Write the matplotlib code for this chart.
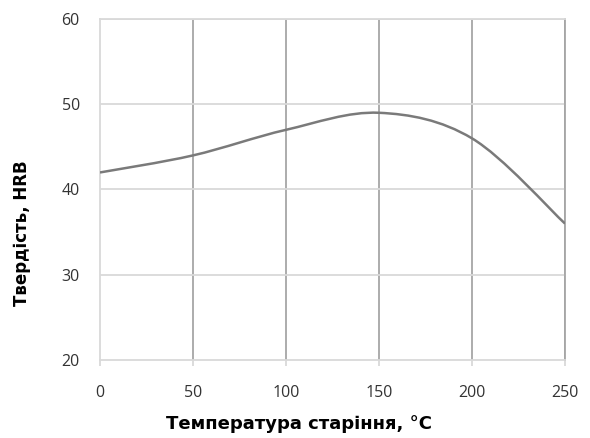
import numpy as np
import matplotlib
matplotlib.use("Agg")
import matplotlib.pyplot as plt
from matplotlib.path import Path
from matplotlib.patches import PathPatch

# data
temperature = [0, 50, 100, 150, 200, 250]
hardness = [42, 44, 47, 49, 46, 36]

x_ticks = [0, 50, 100, 150, 200, 250]
y_ticks = [20, 30, 40, 50, 60]


def smooth_path(x, y):  # Excel-like smoothed line as cubic bezier segments
    p = np.column_stack([x, y]).astype(float)
    n = len(p)
    verts = [p[0]]
    codes = [Path.MOVETO]
    for i in range(n - 1):
        p0 = p[i - 1] if i > 0 else p[i]
        p3 = p[i + 2] if i + 2 < n else p[i + 1]
        c1 = p[i] + (p[i + 1] - p0) / 6.0
        c2 = p[i + 1] - (p3 - p[i]) / 6.0
        verts += [c1, c2, p[i + 1]]
        codes += [Path.CURVE4] * 3
    return Path(verts, codes)


fig = plt.figure(figsize=(5.9, 4.38), dpi=100)
ax = fig.add_axes([100 / 590, 1 - 360 / 438, 465 / 590, 341 / 438])

ax.set_xlim(0, 250)
ax.set_ylim(20, 60)
ax.set_xticks(x_ticks)
ax.set_yticks(y_ticks)

for xv in x_ticks[1:]:
    ax.axvline(xv, color="#a6a6a6", lw=1.3, zorder=1)
for yv in y_ticks[1:]:
    ax.axhline(yv, color="#d9d9d9", lw=1.3, zorder=1)

patch = PathPatch(smooth_path(temperature, hardness), facecolor="none",
                  edgecolor="#7a7a7a", lw=1.8, zorder=3)
ax.add_patch(patch)

for side in ["top", "left", "bottom"]:
    ax.spines[side].set_color("#d9d9d9")
    ax.spines[side].set_linewidth(1.3)
ax.spines["right"].set_color("#a6a6a6")
ax.spines["right"].set_linewidth(1.3)

ax.tick_params(axis="x", length=4, width=1.3, color="#d9d9d9", pad=14,
               labelsize=11.5, labelcolor="#333333")
ax.tick_params(axis="y", length=0, pad=14.5, labelsize=11.5, labelcolor="#333333")
for lab in ax.get_xticklabels() + ax.get_yticklabels():
    lab.set_family("Open Sans")

ax.set_xlabel("Температура старіння, °C", fontsize=13, fontweight="bold")
ax.set_ylabel("Твердість, HRB", fontsize=12, fontweight="bold")
ax.xaxis.set_label_coords(0.428, -0.188)
ax.yaxis.set_label_coords(-0.168, 0.372)
ax.xaxis.label.set_va("center")
ax.yaxis.label.set_va("center")

fig.savefig("out.png", dpi=100)
